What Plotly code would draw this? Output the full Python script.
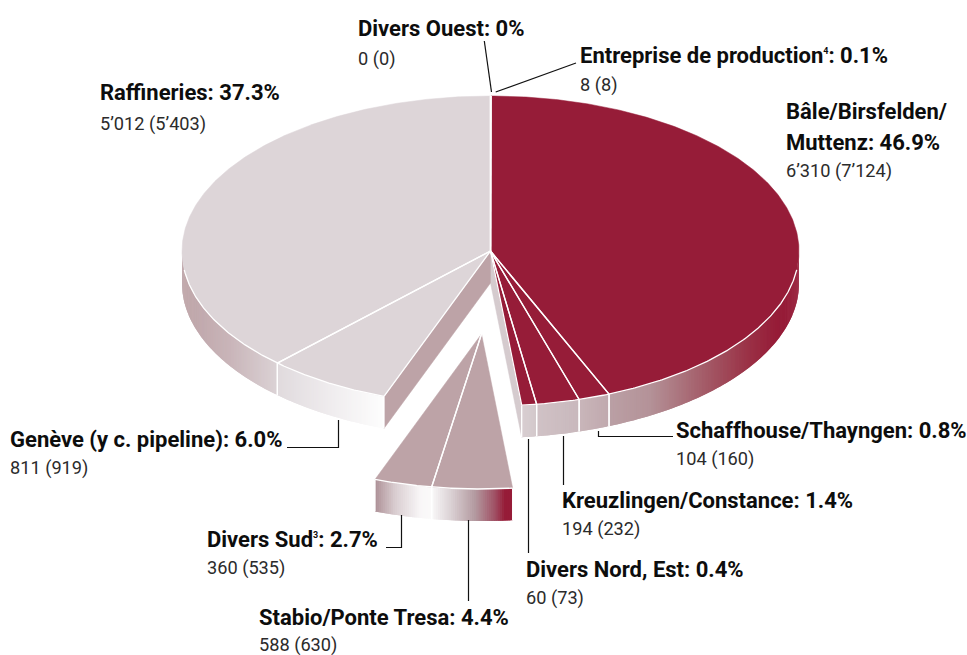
import numpy as np
import plotly.graph_objects as go

# ---------- data ----------
names = ["Entreprise de production", "Bâle/Birsfelden/Muttenz", "Schaffhouse/Thayngen",
         "Kreuzlingen/Constance", "Divers Nord, Est", "Stabio/Ponte Tresa", "Divers Sud",
         "Genève (y c. pipeline)", "Raffineries", "Divers Ouest"]
percent = [0.1, 46.9, 0.8, 1.4, 0.4, 4.4, 2.7, 6.0, 37.3, 0.0]
values_now = ["8", "6’310", "104", "194", "60", "588", "360", "811", "5’012", "0"]
values_prev = ["8", "7’124", "160", "232", "73", "630", "535", "919", "5’403", "0"]
# sweep of each slice as it is drawn in the reference (degrees of the ellipse)
drawn_sweep = [0.1, 157.3, 5.9, 8.1, 2.8, 15.1, 10.9, 23.5, 136.3, 0.0]
exploded = [False, False, False, False, False, True, True, False, False, False]

# ---------- styles / layout ----------
CX, CY, RX, RY, DEPTH = 490.5, 251.0, 308.5, 155.0, 32.0
EXPLODE = (-9.0, 83.0)
RED, PALE, ROSE = "#961c38", "#ddd5d8", "#bda3a7"
top_colors = [RED, RED, RED, RED, RED, ROSE, ROSE, PALE, PALE, PALE]
wall_stops = {
    1: [(600, "#bca3a8"), (650, "#b49298"), (700, "#a5606c"), (750, "#9a3045"), (777, RED), (800, RED)],
    2: [(579, "#c9b6ba"), (610, "#c0a8ad")],
    3: [(537, "#d0c2c6"), (579, "#c9b8bc")],
    4: [(522, "#d8ced1"), (537, "#d3c8cb")],
    5: [(431, "#fbfafa"), (450, "#dcd3d6"), (475, "#b39aa0"), (495, "#a05064"), (505, RED), (512, RED)],
    6: [(375, "#ad9096"), (395, "#d9cdd0"), (420, "#f8f6f7"), (431, "#fbfafa")],
    7: [(277, "#e0dadd"), (330, "#efecee"), (383, "#fdfdfd")],
    8: [(182, ROSE), (230, "#c9b5b9"), (277, "#dbd2d5")],
}
FONT = "Roboto"
BOLD_SIZE, VALUE_SIZE = 22, 18.2


def hex_rgb(h):
    return np.array([int(h[i:i + 2], 16) for i in (1, 3, 5)], float)


def grad(stops, x):
    xs = [s[0] for s in stops]
    cols = np.array([hex_rgb(s[1]) for s in stops])
    c = [np.interp(x, xs, cols[:, k]) for k in range(3)]
    return "rgb(%d,%d,%d)" % tuple(int(round(v)) for v in c)


def rim(theta, off=(0, 0), dy=0.0):
    t = np.radians(theta)
    return CX + off[0] + RX * np.sin(t), CY + off[1] + dy - RY * np.cos(t)


def poly(fig, xs, ys, color, lw=0.5):
    fig.add_trace(go.Scatter(x=list(xs), y=list(ys), mode="lines", fill="toself", fillcolor=color,
                             line=dict(color=color, width=lw), hoverinfo="skip", showlegend=False))


def stroke(fig, xs, ys, color="white", width=1.5):
    fig.add_trace(go.Scatter(x=list(xs), y=list(ys), mode="lines", line=dict(color=color, width=width),
                             hoverinfo="skip", showlegend=False))


edges = np.concatenate([[0], np.cumsum(drawn_sweep)])
fig = go.Figure()


def draw_group(indices, off):
    ax, ay = CX + off[0], CY + off[1]
    lo, hi = edges[indices[0]], edges[indices[-1] + 1]
    # walls: each strip runs on under the next one so no seam shows
    for i in indices:
        if i not in wall_stops:
            continue
        a, b = max(edges[i], 90), min(edges[i + 1], 270)
        if b <= a:
            continue
        ts = np.linspace(a, b, max(2, int((b - a) / 0.4) + 2))
        step = ts[1] - ts[0]
        for t1, t2 in zip(ts[:-1], ts[1:]):
            tt = np.linspace(t1, min(t2 + step, b), 3)
            x, y = rim(tt, off)
            px = [*x, *x[::-1], x[0]]
            py = [*y, *(y[::-1] + DEPTH), y[0]]
            poly(fig, px, py, grad(wall_stops[i], rim((t1 + t2) / 2, off)[0]), lw=0)
    # top faces
    for i in indices:
        ts = np.linspace(edges[i], edges[i + 1], max(2, int(drawn_sweep[i] * 2)))
        xs, ys = rim(ts, off)
        poly(fig, [ax, *xs, ax], [ay, *ys, ay], top_colors[i])
    # wall dividers
    for i in indices:
        for e in (edges[i], edges[i + 1]):
            if 100 < e < 263:
                x, y = rim(e, off)
                stroke(fig, [x, x], [y, y + DEPTH], width=1.3)
    # rim line
    ts = np.linspace(max(lo, 97), min(hi, 263), 200)
    xs, ys = rim(ts, off)
    stroke(fig, xs, ys, width=1.3)
    # radial dividers
    for i in indices:
        for e in (edges[i], edges[i + 1]):
            if off[1] and ((i == indices[0] and e == edges[i]) or (i == indices[-1] and e == edges[i + 1])):
                continue
            x, y = rim(e, off)
            stroke(fig, [ax, x], [ay, y], width=1.3)


def cut_face(theta, color):
    x, y = rim(theta)
    poly(fig, [CX, x, x, CX, CX], [CY, y, y + DEPTH, CY + DEPTH, CY], color)


main = [i for i, e in enumerate(exploded) if not e]
cut_face(edges[5], "#d5cbce")
cut_face(edges[7], ROSE)
draw_group(main[:5], (0, 0))
draw_group(main[5:], (0, 0))
draw_group([i for i, e in enumerate(exploded) if e], EXPLODE)

# leader lines
leaders = [
    ([484.3, 491.5], [41, 92]),
    ([576, 495.7], [63, 92]),
    ([338.5, 338.5, 287], [420, 447.5, 447.5]),
    ([401.5, 401.5, 386], [515, 547.5, 547.5]),
    ([468.5, 468.5], [520, 601]),
    ([528.5, 528.5], [439, 553]),
    ([563.5, 563.5], [436, 485]),
    ([598.5, 598.5, 673], [431, 436.5, 436.5]),
]
for lx, ly in leaders:
    stroke(fig, lx, ly, color="#111111", width=1.2)

# texts: left x, centre y of bold line, centre y of value line
SUP = '<sup><span style="font-size:9px">%s</span></sup>'
bold_sup = {0: "Entreprise de production" + SUP % "4", 6: "Divers Sud" + SUP % "3"}
text_pos = {9: (358, 28, 59), 0: (580, 55, 85), 8: (100, 92, 124), 2: (676, 430, 459),
            3: (562, 500, 529), 4: (526, 569, 598), 5: (259, 617, 645), 6: (207, 539, 568),
            7: (10, 439, 468)}
annotations = []


def label(x, y, text, bold):
    annotations.append(dict(x=x, y=y, xref="x", yref="y", xanchor="left", yanchor="middle", showarrow=False,
                            align="left", text=f"<b>{text}</b>" if bold else text, borderpad=0,
                            xshift=-1,
                            font=dict(family=FONT, size=BOLD_SIZE if bold else VALUE_SIZE,
                                      color="#0d0d0d" if bold else "#2b2b2b")))


def pct(p):
    return "0" if p == 0 else f"{p:.1f}"


for i, (x, y1, y2) in text_pos.items():
    label(x, y1, f"{bold_sup.get(i, names[i])}: {pct(percent[i])}%", True)
    label(x, y2, f"{values_now[i]} ({values_prev[i]})", False)
label(786, 111, "Bâle/Birsfelden/", True)
label(786, 142, f"Muttenz: {percent[1]}%", True)
label(786, 171, f"{values_now[1]} ({values_prev[1]})", False)

fig.update_layout(
    width=967, height=655, margin=dict(l=0, r=0, t=0, b=0), paper_bgcolor="white", plot_bgcolor="white",
    showlegend=False, annotations=annotations,
    xaxis=dict(range=[0, 967], visible=False, fixedrange=True),
    yaxis=dict(range=[655, 0], visible=False, fixedrange=True),
)
fig.write_html("out.html", config=dict(displayModeBar=False),
               post_script="document.body.style.margin='0';document.body.style.overflow='hidden';")
